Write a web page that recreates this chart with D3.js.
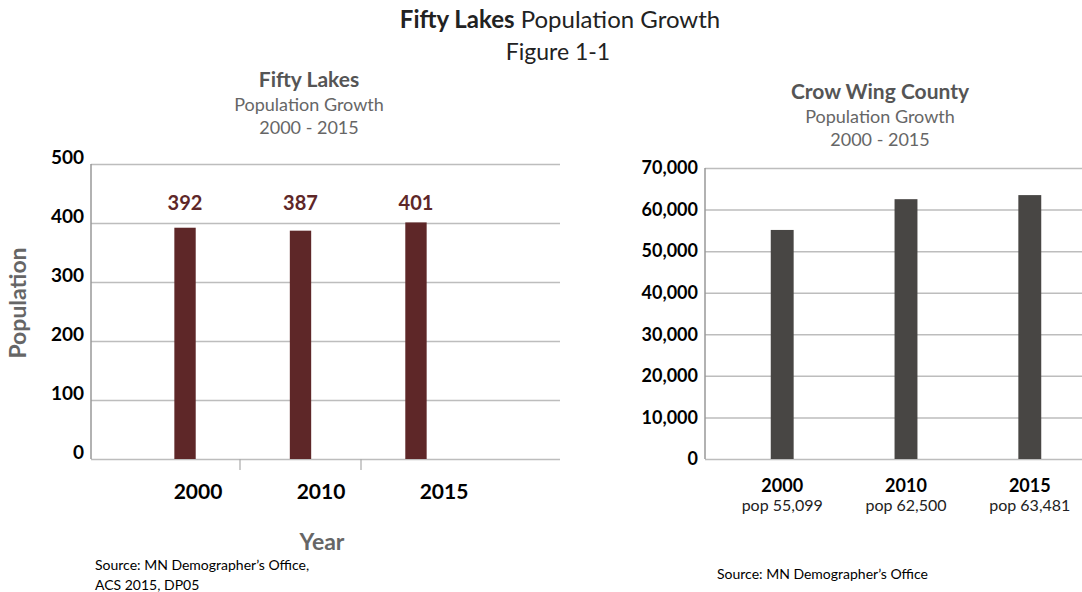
<!DOCTYPE html>
<html>
<head>
<meta charset="utf-8">
<script src="https://cdn.jsdelivr.net/npm/d3@7"></script>
<style>
  html, body { margin: 0; padding: 0; background: #fff; }
  svg { display: block; font-family: Lato, "Open Sans", sans-serif; }
</style>
</head>
<body>
<svg id="chart" width="1082" height="592"></svg>
<script>
// Fifty Lakes population (city)
const years = ["2000", "2010", "2015"];
const lakesPop = [392, 387, 401];
const lakesTicks = [0, 100, 200, 300, 400, 500];

// Crow Wing County population
const countyPop = [55099, 62500, 63481];
const countyLabels = ["pop 55,099", "pop 62,500", "pop 63,481"];
const countyTicks = [0, 10000, 20000, 30000, 40000, 50000, 60000, 70000];

const svg = d3.select("#chart");
const gridColor = "#bdbdbd";

// Figure title
const title = svg.append("text").attr("x", 560).attr("y", 28)
  .attr("text-anchor", "middle").attr("font-size", 24).attr("fill", "#222");
title.append("tspan").attr("font-weight", "bold").text("Fifty Lakes");
title.append("tspan").text(" Population Growth");
svg.append("text").attr("x", 558).attr("y", 60).attr("text-anchor", "middle")
  .attr("font-size", 23).attr("fill", "#222").text("Figure 1-1");

function subTitle(cx, y0, name) {
  svg.append("text").attr("x", cx).attr("y", y0).attr("text-anchor", "middle")
    .attr("font-size", 21).attr("font-weight", "bold").attr("fill", "#555").text(name);
  svg.append("text").attr("x", cx).attr("y", y0 + 24).attr("text-anchor", "middle")
    .attr("font-size", 18).attr("fill", "#666").text("Population Growth");
  svg.append("text").attr("x", cx).attr("y", y0 + 47).attr("text-anchor", "middle")
    .attr("font-size", 18).attr("fill", "#666").text("2000 - 2015");
}
subTitle(309, 87, "Fifty Lakes");
subTitle(880, 99, "Crow Wing County");

// ---------- Left chart: Fifty Lakes ----------
{
  const x0 = 91, x1 = 560;
  const y = d3.scaleLinear().domain([0, 500]).range([459, 164]);
  const xBar = d3.scaleBand().domain(years).range([127, 474]).paddingInner(0.815).paddingOuter(0.41);
  const xLab = d3.scalePoint().domain(years).range([198, 444]);
  const g = svg.append("g");

  // gridlines + tick labels
  const yAxis = d3.axisLeft(y).tickValues(lakesTicks).tickSize(-(x1 - x0)).tickPadding(7);
  const ya = g.append("g").attr("transform", `translate(${x0},0)`).call(yAxis);
  ya.select(".domain").remove();
  ya.selectAll(".tick line").attr("stroke", gridColor).attr("stroke-width", 1.5);
  ya.selectAll(".tick text").attr("font-size", 19).attr("font-weight", "bold")
    .attr("fill", "#000").attr("font-family", "Lato, sans-serif").attr("dy", "-0.05em");
  g.append("line").attr("x1", x0).attr("x2", x0).attr("y1", y(500)).attr("y2", y(0))
    .attr("stroke", "#999").attr("stroke-width", 1.5);

  // category separators below the baseline
  const seps = [xLab("2000") + 42, xLab("2010") + 40];
  g.selectAll(".sep").data(seps).join("line")
    .attr("x1", d => d).attr("x2", d => d).attr("y1", y(0)).attr("y2", y(0) + 11)
    .attr("stroke", "#aaa").attr("stroke-width", 1.2);

  g.selectAll(".bar").data(lakesPop).join("rect")
    .attr("x", (d, i) => xBar(years[i])).attr("width", xBar.bandwidth())
    .attr("y", d => y(d)).attr("height", d => y(0) - y(d)).attr("fill", "#5e2728");

  g.selectAll(".val").data(lakesPop).join("text")
    .attr("x", (d, i) => xBar(years[i]) + xBar.bandwidth() / 2).attr("y", 210)
    .attr("text-anchor", "middle").attr("font-size", 20).attr("font-weight", "bold")
    .attr("fill", "#5e2728").text(d => d);

  g.selectAll(".xl").data(years).join("text")
    .attr("x", d => xLab(d)).attr("y", 499).attr("text-anchor", "middle")
    .attr("font-size", 21).attr("font-weight", "bold").attr("fill", "#000").text(d => d);

  g.append("text").attr("x", 322).attr("y", 550).attr("text-anchor", "middle")
    .attr("font-size", 23).attr("font-weight", "bold").attr("fill", "#666").text("Year");
  g.append("text").attr("transform", "translate(26,303) rotate(-90)")
    .attr("text-anchor", "middle").attr("font-size", 23).attr("font-weight", "bold")
    .attr("fill", "#666").text("Population");

  g.append("text").attr("x", 95).attr("y", 570).attr("font-size", 14).attr("fill", "#000")
    .text("Source: MN Demographer\u2019s Office,");
  g.append("text").attr("x", 95).attr("y", 590).attr("font-size", 14).attr("fill", "#000")
    .text("ACS 2015, DP05");
}

// ---------- Right chart: Crow Wing County ----------
{
  const x0 = 705, x1 = 1082;
  const y = d3.scaleLinear().domain([0, 70000]).range([459, 168]);
  const x = d3.scaleBand().domain(years).range([720, 1092]).paddingInner(0.815).paddingOuter(0.41);
  const g = svg.append("g");

  const yAxis = d3.axisLeft(y).tickValues(countyTicks).tickSize(-(x1 - x0)).tickPadding(7)
    .tickFormat(d3.format(","));
  const ya = g.append("g").attr("transform", `translate(${x0},0)`).call(yAxis);
  ya.select(".domain").remove();
  ya.selectAll(".tick line").attr("stroke", gridColor).attr("stroke-width", 1.5);
  ya.selectAll(".tick text").attr("font-size", 18).attr("font-weight", "bold")
    .attr("fill", "#000").attr("font-family", "Lato, sans-serif");
  g.append("line").attr("x1", x0).attr("x2", x0).attr("y1", y(70000)).attr("y2", y(0))
    .attr("stroke", "#999").attr("stroke-width", 1.5);

  g.selectAll(".bar").data(countyPop).join("rect")
    .attr("x", (d, i) => x(years[i])).attr("width", x.bandwidth())
    .attr("y", d => y(d)).attr("height", d => y(0) - y(d)).attr("fill", "#484644");

  g.selectAll(".xl").data(years).join("text")
    .attr("x", d => x(d) + x.bandwidth() / 2).attr("y", 492).attr("text-anchor", "middle")
    .attr("font-size", 18).attr("font-weight", "bold").attr("fill", "#000").text(d => d);
  g.selectAll(".pl").data(countyLabels).join("text")
    .attr("x", (d, i) => x(years[i]) + x.bandwidth() / 2).attr("y", 511).attr("text-anchor", "middle")
    .attr("font-size", 16).attr("fill", "#222").text(d => d);

  g.append("text").attr("x", 717).attr("y", 579).attr("font-size", 14).attr("fill", "#000")
    .text("Source: MN Demographer\u2019s Office");
}
</script>
</body>
</html>
